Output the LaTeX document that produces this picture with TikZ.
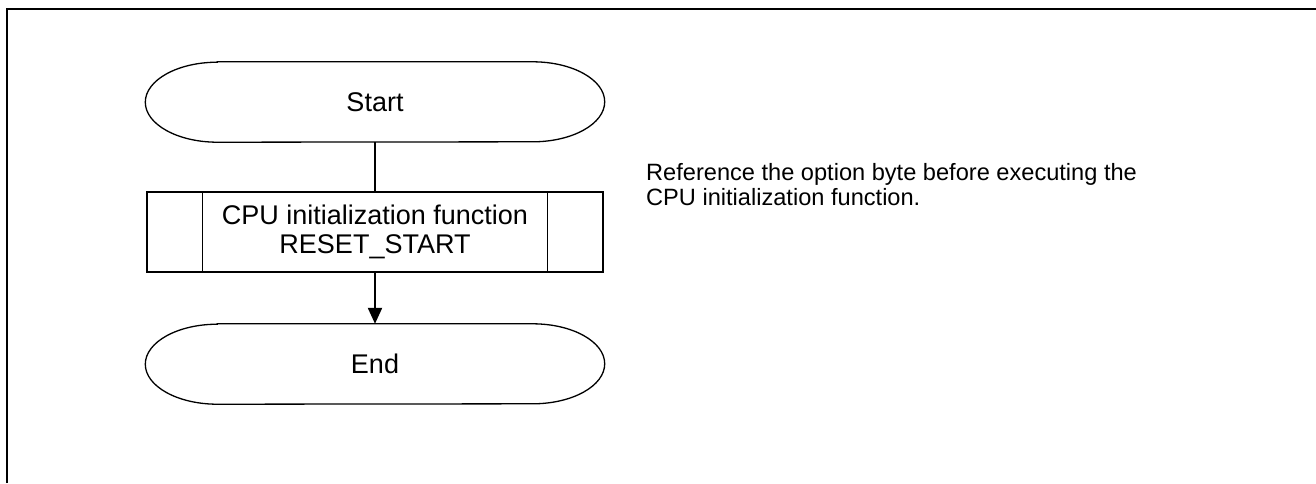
\documentclass[tikz,border=0pt]{standalone}
\usepackage{fontspec}
\setmainfont{Liberation Sans}
\usetikzlibrary{arrows.meta}

\tikzset{
  shapeline/.style={line width=1.3pt},
  flow/.style={line width=2.2pt},
  terminal/.style={minimum width=459pt, minimum height=80pt, inner sep=0pt,
    font=\fontsize{27pt}{28.5pt}\selectfont},
  subproc/.style={draw, shapeline, minimum width=456pt, minimum height=80pt,
    align=center, font=\fontsize{27pt}{28.5pt}\selectfont},
  note/.style={align=left, inner sep=0pt, anchor=north west,
    font=\fontsize{23.6pt}{25pt}\selectfont}
}

\begin{document}
\begin{tikzpicture}[x=1pt, y=-1pt]
  \useasboundingbox (0,0) rectangle (1316,483);
  \draw[line width=1.8pt] (7,483) -- (7,9) -- (1316,9);

  \node[terminal] (start) at (375,102) {Start};
  \node[subproc] (init) at (375,232) {CPU initialization function\\RESET\_START};
  \node[terminal] (finish) at (375,364) {End};

  \foreach \n in {start,finish}
    \draw[shapeline] ([xshift=72pt]\n.north west) -- ([xshift=-72pt]\n.north east)
      arc[start angle=90, end angle=-90, x radius=72pt, y radius=40pt]
      -- ([xshift=72pt]\n.south west)
      arc[start angle=270, end angle=90, x radius=72pt, y radius=40pt] -- cycle;

  \draw[shapeline] ([xshift=56pt]init.north west) -- ([xshift=56pt]init.south west)
    ([xshift=-56pt]init.north east) -- ([xshift=-56pt]init.south east);

  \draw[flow] (start) -- (init);
  \draw[flow, -{Triangle[length=16pt, width=14pt]}] (init) -- (finish);

  \node[note] (remark) at (646,163.5) {Reference the option byte before executing the\\CPU initialization function.};
\end{tikzpicture}
\end{document}
